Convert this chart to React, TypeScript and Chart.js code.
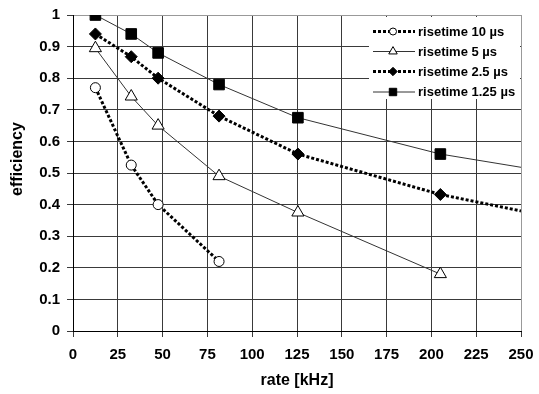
import React, { useEffect, useRef } from 'react';
import { Chart, registerables } from 'chart.js';

Chart.register(...registerables);

// rate [kHz] and efficiency per risetime
const rate10 = [12.5, 32.5, 47.5, 81.5];
const eff10 = [0.77, 0.525, 0.4, 0.22];

const rate5 = [12.5, 32.5, 47.5, 81.5, 125.5, 205];
const eff5 = [0.895, 0.742, 0.65, 0.49, 0.375, 0.18];

const rate25 = [12.5, 32.5, 47.5, 81.5, 125.5, 205];
const eff25 = [0.94, 0.868, 0.8, 0.68, 0.56, 0.432];

const rate125 = [12.5, 32.5, 47.5, 81.5, 125.5, 205];
const eff125 = [1.0, 0.94, 0.88, 0.78, 0.675, 0.56];

// trend-line continuation to the right edge
const extRate = 250;
const ext25 = 0.38;
const ext125 = 0.518;

const seriesLabels = ['risetime 10 µs', 'risetime 5 µs', 'risetime 2.5 µs', 'risetime 1.25 µs'];
const xTitle = 'rate [kHz]';
const yTitle = 'efficiency';

const xMin = 0;
const xMax = 250;
const xStep = 25;
const yMin = 0;
const yMax = 1;
const yStep = 0.1;

const FONT = '"Liberation Sans", Arial, Helvetica, sans-serif';

type Style = {
  dotted: boolean;
  point: string;
  fill: string;
  radius: number;
};

const styles: Style[] = [
  { dotted: true, point: 'circle', fill: '#ffffff', radius: 5 },
  { dotted: false, point: 'triangle', fill: '#ffffff', radius: 7 },
  { dotted: true, point: 'rectRot', fill: '#000000', radius: 6 },
  { dotted: false, point: 'rect', fill: '#000000', radius: 7.5 },
];

function toPoints(xs: number[], ys: number[]) {
  return xs.map((x, i) => ({ x, y: ys[i] }));
}

function drawMarker(ctx: CanvasRenderingContext2D, s: Style, x: number, y: number, r: number) {
  ctx.save();
  ctx.beginPath();
  if (s.point === 'circle') {
    ctx.arc(x, y, r, 0, Math.PI * 2);
  } else if (s.point === 'triangle') {
    ctx.moveTo(x, y - r);
    ctx.lineTo(x + r * Math.cos(Math.PI / 6), y + r * 0.5);
    ctx.lineTo(x - r * Math.cos(Math.PI / 6), y + r * 0.5);
    ctx.closePath();
  } else if (s.point === 'rectRot') {
    ctx.moveTo(x, y - r);
    ctx.lineTo(x + r, y);
    ctx.lineTo(x, y + r);
    ctx.lineTo(x - r, y);
    ctx.closePath();
  } else {
    const h = r * Math.SQRT1_2;
    ctx.rect(x - h, y - h, 2 * h, 2 * h);
  }
  ctx.fillStyle = s.fill;
  ctx.fill();
  ctx.lineWidth = 1;
  ctx.strokeStyle = '#000';
  ctx.stroke();
  ctx.restore();
}

const legendPlugin = {
  id: 'customLegend',
  afterDatasetsDraw(chart: any) {
    const ctx: CanvasRenderingContext2D = chart.ctx;
    const area = chart.chartArea;
    const boxLeft = 369;
    const boxTop = area.top + 2;
    const boxRight = area.right - 1;
    const boxBottom = 99;
    ctx.save();
    ctx.fillStyle = '#ffffff';
    ctx.fillRect(boxLeft, boxTop, boxRight - boxLeft, boxBottom - boxTop);
    const rowY = [31.5, 51.5, 71.5, 92];
    seriesLabels.forEach((label, i) => {
      const s = styles[i];
      const y = rowY[i];
      ctx.beginPath();
      ctx.moveTo(373, y);
      ctx.lineTo(415, y);
      ctx.strokeStyle = s.dotted ? '#000' : '#333';
      ctx.lineWidth = s.dotted ? 3 : 1;
      ctx.setLineDash(s.dotted ? [3, 2] : []);
      ctx.stroke();
      ctx.setLineDash([]);
      drawMarker(ctx, s, 393, y, s.radius * 0.7);
      ctx.fillStyle = '#000';
      ctx.font = `bold 13px ${FONT}`;
      ctx.textAlign = 'left';
      ctx.textBaseline = 'middle';
      ctx.fillText(label, 418, y + 0.5);
    });
    ctx.restore();
  },
  afterDraw(chart: any) {
    const ctx: CanvasRenderingContext2D = chart.ctx;
    const area = chart.chartArea;
    ctx.save();
    ctx.fillStyle = '#000';
    ctx.font = `bold 16px ${FONT}`;
    ctx.textAlign = 'center';
    ctx.textBaseline = 'middle';
    ctx.fillText(xTitle, (area.left + area.right) / 2, 381);
    ctx.translate(18, 159);
    ctx.rotate(-Math.PI / 2);
    ctx.fillText(yTitle, 0, 0);
    ctx.restore();
  },
};

export default function App() {
  const canvasRef = useRef<HTMLCanvasElement | null>(null);

  useEffect(() => {
    if (!canvasRef.current) return;

    const mk = (i: number, data: { x: number; y: number }[], markerCount: number) => {
      const s = styles[i];
      return {
        label: seriesLabels[i],
        data,
        borderColor: s.dotted ? '#000000' : '#333333',
        borderWidth: s.dotted ? 3 : 1,
        borderDash: s.dotted ? [3, 2] : [],
        backgroundColor: s.fill,
        pointBackgroundColor: s.fill,
        pointBorderColor: '#000000',
        pointBorderWidth: 1,
        pointStyle: s.point,
        pointRadius: data.map((_, k) => (k < markerCount ? s.radius : 0)),
        pointHoverRadius: 0,
        showLine: true,
        fill: false,
        tension: 0,
      };
    };

    const datasets = [
      mk(0, toPoints(rate10, eff10), rate10.length),
      mk(1, toPoints(rate5, eff5), rate5.length),
      mk(2, [...toPoints(rate25, eff25), { x: extRate, y: ext25 }], rate25.length),
      mk(3, [...toPoints(rate125, eff125), { x: extRate, y: ext125 }], rate125.length),
    ];

    const chart = new Chart(canvasRef.current, {
      type: 'scatter',
      data: { datasets: datasets as any },
      plugins: [legendPlugin],
      options: {
        animation: false,
        responsive: false,
        maintainAspectRatio: false,
        layout: { padding: { top: 15, right: 18, left: 0, bottom: 0 } },
        plugins: {
          legend: { display: false },
          tooltip: { enabled: false },
        },
        scales: {
          x: {
            type: 'linear',
            min: xMin,
            max: xMax,
            afterFit: (scale: any) => {
              scale.height = 63;
              scale.paddingLeft = 0;
              scale.paddingRight = 0;
            },
            ticks: {
              stepSize: xStep,
              color: '#000',
              font: { family: FONT, size: 15, weight: 'bold' },
              padding: 9,
              maxRotation: 0,
            },
            grid: {
              color: (c: any) => (c.tick && c.tick.value === xMax ? '#999999' : '#3a3a3a'),
              lineWidth: 1,
              tickLength: 6,
              tickColor: '#3a3a3a',
            },
            border: { color: '#000', width: 1 },
            title: { display: false },
          },
          y: {
            type: 'linear',
            min: yMin,
            max: yMax,
            afterFit: (scale: any) => {
              scale.width = 73;
              scale.paddingTop = 0;
              scale.paddingBottom = 0;
            },
            ticks: {
              stepSize: yStep,
              color: '#000',
              font: { family: FONT, size: 15, weight: 'bold' },
              padding: 7,
              callback: (v: any) => {
                const n = Number(v);
                if (Math.abs(n) < 1e-9) return '0';
                if (Math.abs(n - 1) < 1e-9) return '1';
                return n.toFixed(1);
              },
            },
            grid: {
              color: (c: any) => (c.tick && c.tick.value === yMax ? '#999999' : '#3a3a3a'),
              lineWidth: 1,
              tickLength: 6,
              tickColor: '#3a3a3a',
            },
            border: { color: '#000', width: 1 },
            title: { display: false },
          },
        },
      } as any,
    });

    return () => {
      chart.destroy();
    };
  }, []);

  return (
    <div style={{ position: 'fixed', left: 0, top: 0, width: 539, height: 394, background: '#fff' }}>
      <canvas ref={canvasRef} width={539} height={394} style={{ width: 539, height: 394, display: 'block' }} />
    </div>
  );
}
